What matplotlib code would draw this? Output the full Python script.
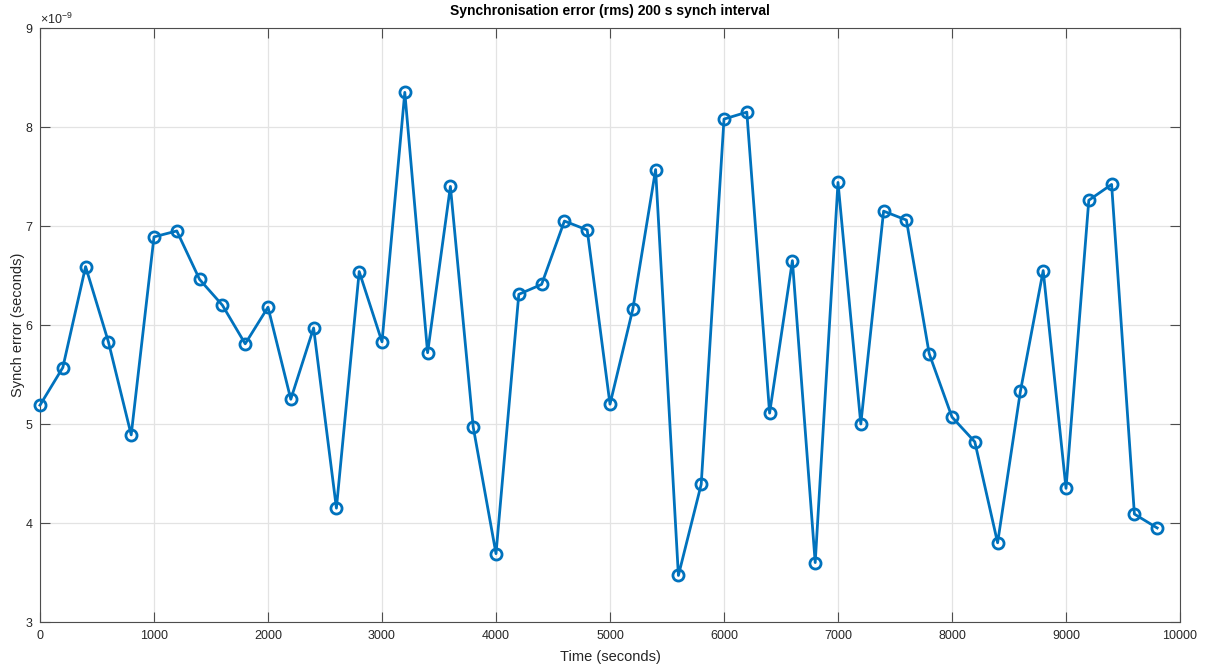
import numpy as np
import matplotlib
matplotlib.use('Agg')
import matplotlib.pyplot as plt

# --- data ---
time_s = np.arange(0, 10000, 200)
synch_err_ns = [
    5.19, 5.57, 6.59, 5.83, 4.89, 6.89, 6.95, 6.46, 6.20, 5.81,
    6.18, 5.25, 5.97, 4.15, 6.54, 5.83, 8.35, 5.72, 7.40, 4.97,
    3.69, 6.31, 6.41, 7.05, 6.96, 5.20, 6.16, 7.57, 3.47, 4.39,
    8.08, 8.15, 5.11, 6.65, 3.60, 7.44, 5.00, 7.15, 7.06, 5.71,
    5.07, 4.82, 3.80, 5.33, 6.55, 4.35, 7.26, 7.42, 4.09, 3.95,
]
synch_err = np.array(synch_err_ns) * 1e-9

x_ticks = np.arange(0, 10001, 1000)
y_ticks = np.arange(3, 10) * 1e-9

# --- MATLAB-ish look ---
plt.rcParams['font.family'] = ['Liberation Sans', 'DejaVu Sans']
plt.rcParams['mathtext.default'] = 'regular'
ink = '#262626'
axis_col = '#4d4d4d'

fig = plt.figure(figsize=(12.09, 6.66), dpi=100, facecolor='white')
ax = fig.add_axes([40 / 1209, 1 - 622 / 666, 1140 / 1209, 594 / 666])

ax.plot(time_s, synch_err, color='#0072BD', linewidth=2.0,
        marker='o', markersize=8, markerfacecolor='none',
        markeredgewidth=2.0, zorder=3, clip_on=False)

ax.set_xlim(0, 10000)
ax.set_ylim(3e-9, 9e-9)
ax.set_xticks(x_ticks)
ax.set_yticks(y_ticks)
ax.ticklabel_format(style='sci', axis='y', scilimits=(0, 0), useMathText=True)
ax.yaxis.get_offset_text().set_fontsize(9)
ax.yaxis.get_offset_text().set_color(ink)

ax.grid(True, color='#e3e3e3', linewidth=0.9)
ax.set_axisbelow(True)

ax.tick_params(direction='in', length=7, width=0.8, colors=axis_col,
               labelcolor=ink, labelsize=9, top=True, right=True)
ax.tick_params(axis='x', pad=6)
ax.tick_params(axis='y', pad=4.5)
for s in ax.spines.values():
    s.set_color(axis_col)
    s.set_linewidth(0.8)

ax.set_title('Synchronisation error (rms) 200 s synch interval',
             fontsize=10, fontweight='bold', color='black', pad=9.5)
ax.set_xlabel('Time (seconds)', fontsize=10.5, color=ink, labelpad=5.5)
ax.set_ylabel('Synch error (seconds)', fontsize=10.5, color=ink, labelpad=0)

fig.savefig('out.png', dpi=100, facecolor='white')
